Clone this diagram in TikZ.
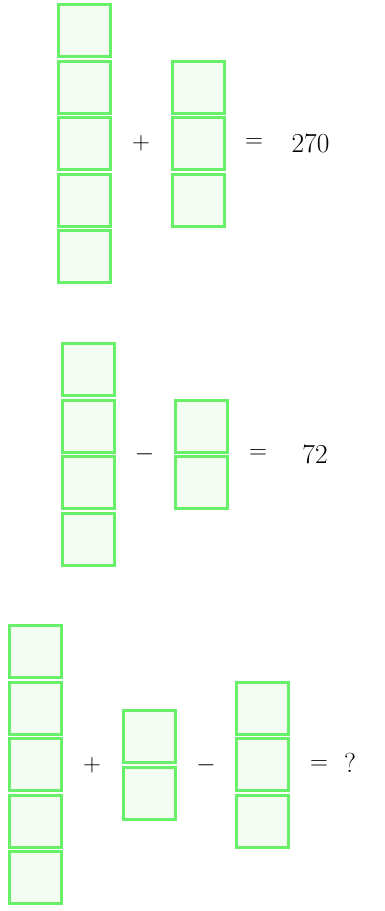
\documentclass[tikz,border=0pt]{standalone}
\usetikzlibrary{positioning}
\definecolor{boxline}{RGB}{104,240,104}
\definecolor{boxfill}{RGB}{244,253,242}

\begin{document}
\begin{tikzpicture}[x=1pt, y=-1pt,
  box/.style={draw=boxline, fill=boxfill, line width=3pt,
    minimum size=52pt, inner sep=0pt},
  sym/.style={font=\fontsize{27.5}{32}\selectfont}]

  \useasboundingbox (0,0) rectangle (385,911);

  % 第一行：5 + 3 = 270
  \node[box] (a1) at (84.5,30.5) {};
  \foreach \i [count=\j from 2] in {1,...,4}
    \node[box, below=1.5pt of a\i] (a\j) {};
  \node[box] (b1) at (198,87) {};
  \foreach \i [count=\j from 2] in {1,2}
    \node[box, below=1.5pt of b\i] (b\j) {};

  \node[sym] (plusA) at (141,143.5) {$+$};
  \node[sym] (eqA)   at (254,143.5) {$=$};
  \node[sym] (resA)  at (310.5,143.5) {270};

  % 第二行：4 - 2 = 72
  \node[box] (c1) at (88,369.5) {};
  \foreach \i [count=\j from 2] in {1,...,3}
    \node[box, below=1.5pt of c\i] (c\j) {};
  \node[box] (d1) at (201,426) {};
  \node[box, below=1.5pt of d1] (d2) {};

  \node[sym] (minusB) at (144.5,454) {$-$};
  \node[sym] (eqB)    at (258,454) {$=$};
  \node[sym] (resB)   at (315,454) {72};

  % 第三行：5 + 2 - 3 = ?
  \node[box] (e1) at (35.5,651.5) {};
  \foreach \i [count=\j from 2] in {1,...,4}
    \node[box, below=1.5pt of e\i] (e\j) {};
  \node[box] (f1) at (149.5,736.5) {};
  \node[box, below=1.5pt of f1] (f2) {};
  \node[box] (g1) at (262.5,708) {};
  \foreach \i [count=\j from 2] in {1,2}
    \node[box, below=1.5pt of g\i] (g\j) {};

  \node[sym] (plusC)  at (92,765) {$+$};
  \node[sym] (minusC) at (206,765) {$-$};
  \node[sym] (eqC)    at (319,765) {$=$};
  \node[sym] (resC)   at (350,763) {?};
\end{tikzpicture}
\end{document}
